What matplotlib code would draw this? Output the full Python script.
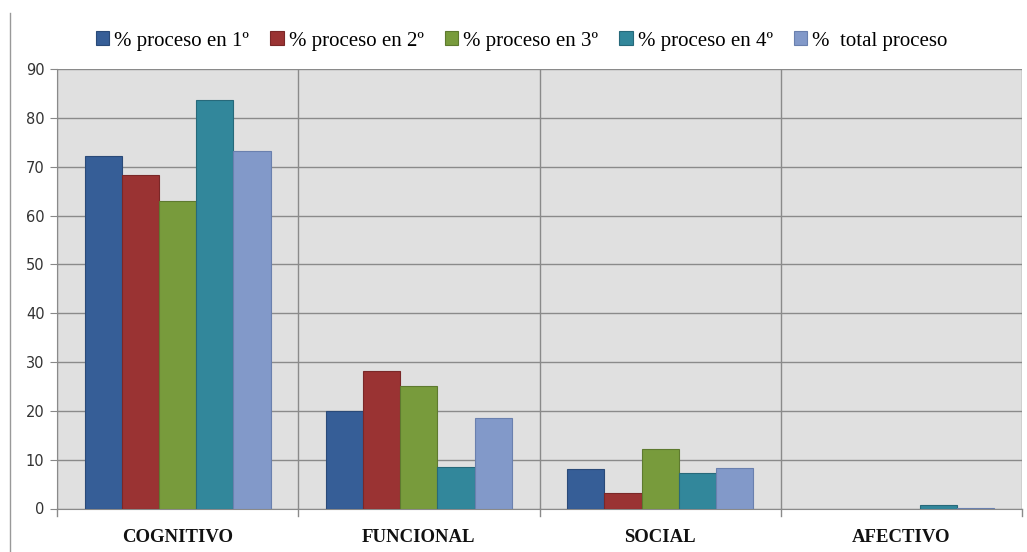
import numpy as np
import matplotlib
matplotlib.use('Agg')
import matplotlib.pyplot as plt
from matplotlib.lines import Line2D

categories = ['COGNITIVO', 'FUNCIONAL', 'SOCIAL', 'AFECTIVO']
series_labels = ['% proceso en 1º', '% proceso en 2º', '% proceso en 3º',
                 '% proceso en 4º', '%  total proceso']
proceso_1 = [72.1, 19.9, 8.0, 0.0]
proceso_2 = [68.3, 28.2, 3.2, 0.0]
proceso_3 = [62.9, 25.1, 12.1, 0.0]
proceso_4 = [83.7, 8.6, 7.3, 0.7]
total = [73.2, 18.5, 8.3, 0.2]
series = [proceso_1, proceso_2, proceso_3, proceso_4, total]
colors = ['#365E97', '#9A3333', '#789B3C', '#32879B', '#8299C9']
edges = ['#2A4A78', '#7A2828', '#5E7A2F', '#27697A', '#6A80AE']

fig = plt.figure(figsize=(10.27, 5.52), dpi=100)
ax = fig.add_axes([57 / 1027, 1 - 508.5 / 552, (1022 - 57) / 1027, (508.5 - 69) / 552])
ax.set_facecolor('#E0E0E0')

x = np.arange(len(categories))
width = 0.154
for i, (vals, c, ec, lab) in enumerate(zip(series, colors, edges, series_labels)):
    # zero-height bars get no outline so they don't leave a stray line on the axis
    lw = [0.8 if v > 0 else 0 for v in vals]
    ax.bar(x + (i - 2) * width, vals, width, color=c, edgecolor=ec, linewidth=lw,
           label=lab, zorder=3)

ax.set_xlim(-0.5, len(categories) - 0.5)
ax.set_ylim(0, 90)
ax.set_yticks(range(0, 91, 10))
ax.set_xticks(x)
ax.set_xticklabels(categories, fontfamily='Liberation Serif', fontweight='bold',
                   fontsize=13.5, color='#111111')
ax.tick_params(axis='x', length=0, pad=15)
ax.tick_params(axis='y', length=5, color='#888888', labelsize=10.5,
               labelcolor='#333333', pad=4)
for lbl in ax.get_yticklabels():
    lbl.set_fontfamily('DejaVu Sans')

# horizontal gridlines + vertical category separators
ax.grid(axis='y', color='#8A8A8A', linewidth=1.0, zorder=1)
for b in np.arange(-0.5, len(categories), 1.0):
    ax.axvline(b, color='#8A8A8A', linewidth=1.0, zorder=1)
    ax.plot([b, b], [0, -0.017], transform=ax.get_xaxis_transform(),
            color='#8A8A8A', linewidth=1.0, clip_on=False)

for side in ['top', 'right']:
    ax.spines[side].set_visible(False)
ax.spines['left'].set_color('#8A8A8A')
ax.spines['bottom'].set_color('#8A8A8A')

leg = fig.legend(loc='center', bbox_to_anchor=(0.508, 1 - 41 / 552), ncol=5,
                 frameon=False, handlelength=0.65, handleheight=0.65,
                 handletextpad=0.25, columnspacing=1.0,
                 prop={'family': 'Liberation Serif', 'size': 15})

# left border line of the original image
fig.add_artist(Line2D([10 / 1027, 10 / 1027], [0, 1 - 13 / 552],
                      color='#999999', linewidth=1.0))

fig.savefig('out.png', dpi=100)
